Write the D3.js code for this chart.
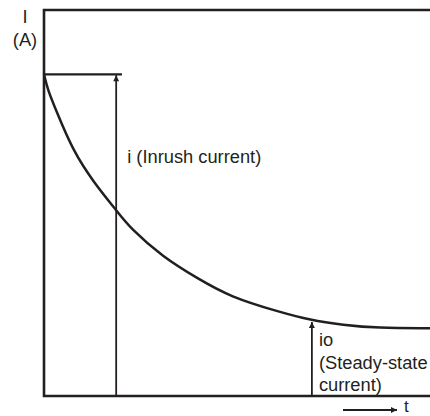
<!DOCTYPE html>
<html>
<head>
<meta charset="utf-8">
<script src="https://cdn.jsdelivr.net/npm/d3@7"></script>
<style>
  body { margin: 0; background: #fff; }
  text { font-family: "Liberation Sans", Arial, sans-serif; font-size: 18.3px; fill: #231f20; }
</style>
</head>
<body>
<svg id="chart"></svg>
<script>
const width = 430, height = 416;
const ink = "#231f20";

// current decay curve (t and I in arbitrary units)
const tValues = [0, 0.10, 0.31, 0.75, 1.30, 1.87, 2.23, 3.08, 3.96, 4.82, 6.11, 6.89, 7.75, 8.63, 10];
const iValues = [10, 9.51, 8.89, 7.62, 6.62, 5.78, 5.22, 4.32, 3.67, 3.08, 2.61, 2.36, 2.21, 2.11, 2.11];

const peakI = 10;       // inrush level (flat line)
const peakLineEnd = 2.02;
const inrushT = 1.87;   // where the inrush arrow sits
const steadyT = 6.94;   // where the steady-state arrow sits
const steadyArrowTop = 2.3;

const labels = ["i (Inrush current)", "io", "(Steady-state", "current)"];

const svg = d3.select("#chart").attr("width", width).attr("height", height);

const x = d3.scaleLinear().domain([0, 10]).range([44, 430]);
const y = d3.scaleLinear().domain([0, 12]).range([396, 10]);

// arrow head marker
svg.append("defs").append("marker")
  .attr("id", "head")
  .attr("markerUnits", "userSpaceOnUse")
  .attr("viewBox", "0 0 10 10")
  .attr("refX", 10).attr("refY", 5)
  .attr("markerWidth", 10).attr("markerHeight", 6)
  .attr("orient", "auto")
  .append("path")
  .attr("d", "M0,0 L10,5 L0,10 Z")
  .attr("fill", ink);

// frame: top, left axis, bottom axis
const frame = svg.append("g").attr("stroke", ink).attr("stroke-width", 2.6).attr("fill", "none");
frame.append("path")
  .attr("d", `M${x(10)},${y(12)} H${x(0)} V${y(0)} H${x(10)}`)
  .attr("stroke-linecap", "square");

// flat inrush level line
svg.append("line")
  .attr("x1", x(0)).attr("x2", x(peakLineEnd))
  .attr("y1", y(peakI)).attr("y2", y(peakI))
  .attr("stroke", ink).attr("stroke-width", 2.4);

// decay curve
const pts = tValues.map((t, k) => [t, iValues[k]]);
svg.append("path")
  .datum(pts)
  .attr("fill", "none")
  .attr("stroke", ink)
  .attr("stroke-width", 2.5)
  .attr("d", d3.line().x(d => x(d[0])).y(d => y(d[1])).curve(d3.curveBasis));

// vertical arrows
const arrows = [[inrushT, peakI - 0.03], [steadyT, steadyArrowTop]];
svg.selectAll(".varrow")
  .data(arrows)
  .enter().append("line")
  .attr("class", "varrow")
  .attr("x1", d => x(d[0])).attr("x2", d => x(d[0]))
  .attr("y1", y(0)).attr("y2", d => y(d[1]))
  .attr("stroke", ink).attr("stroke-width", 1.8)
  .attr("marker-end", "url(#head)");

// time arrow under the axis
svg.append("line")
  .attr("x1", 343).attr("x2", 397)
  .attr("y1", 410).attr("y2", 410)
  .attr("stroke", ink).attr("stroke-width", 1.8)
  .attr("marker-end", "url(#head)");

// texts
svg.append("text").attr("x", 25).attr("y", 23).attr("text-anchor", "middle").text("I");
svg.append("text").attr("x", 25).attr("y", 46).attr("text-anchor", "middle").text("(A)");
svg.append("text").attr("x", 404).attr("y", 412).style("font-size", "17px").text("t");

svg.append("text").attr("x", x(inrushT) + 11).attr("y", 163).text(labels[0]);
svg.selectAll(".steady")
  .data(labels.slice(1))
  .enter().append("text")
  .attr("class", "steady")
  .attr("x", x(steadyT) + 7)
  .attr("y", (d, k) => 346 + k * 22.5)
  .text(d => d);
</script>
</body>
</html>
